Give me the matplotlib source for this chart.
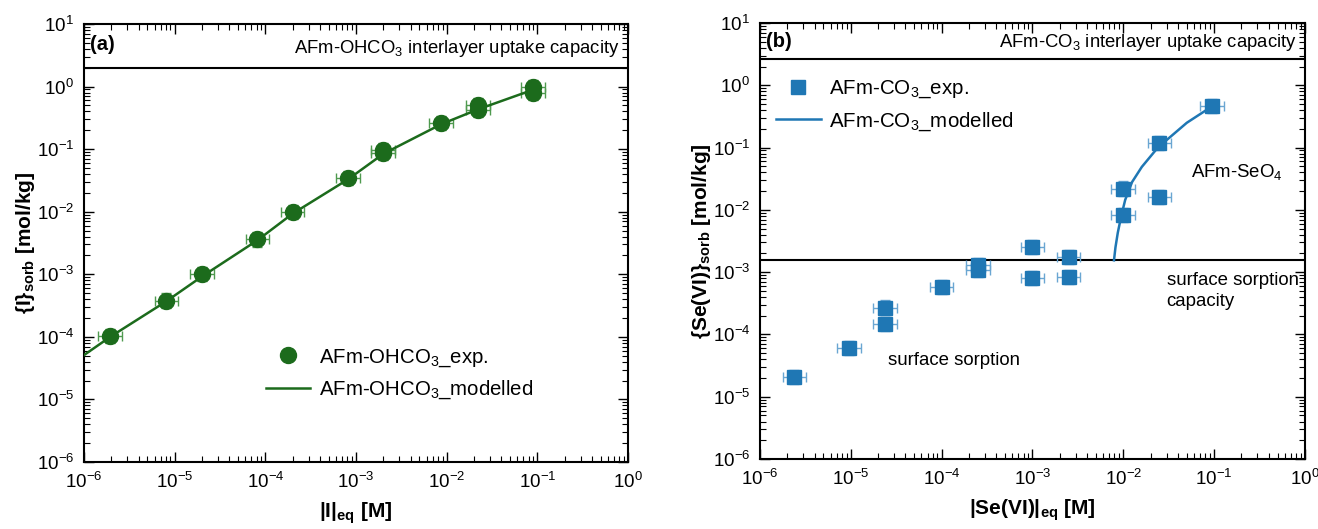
import numpy as np
import matplotlib
matplotlib.use("Agg")
import matplotlib.pyplot as plt

plt.rcParams['font.family'] = ['Liberation Sans', 'DejaVu Sans']
plt.rcParams['mathtext.fontset'] = 'custom'
plt.rcParams['mathtext.rm'] = 'Liberation Sans'
plt.rcParams['mathtext.it'] = 'Liberation Sans:italic'
plt.rcParams['mathtext.bf'] = 'Liberation Sans:bold'

# (a) iodide uptake on AFm-OHCO3
i_eq = [1.95e-6, 8.1e-6, 2.0e-5, 8.2e-5, 2.0e-4, 8.2e-4, 2.0e-3, 2.0e-3, 8.7e-3, 2.2e-2, 2.2e-2, 9.0e-2, 9.0e-2]
i_sorb = [1.04e-4, 3.8e-4, 1.0e-3, 3.6e-3, 9.8e-3, 3.5e-2, 9.6e-2, 8.6e-2, 2.6e-1, 5.0e-1, 4.2e-1, 9.7e-1, 7.9e-1]
i_mod_x = [1e-6, 1.95e-6, 8.1e-6, 2.0e-5, 8.2e-5, 2.0e-4, 8.2e-4, 2.0e-3, 8.7e-3, 2.2e-2, 9.0e-2]
i_mod_y = [5.1e-5, 1.0e-4, 3.7e-4, 9.2e-4, 3.5e-3, 9.3e-3, 3.3e-2, 8.4e-2, 2.5e-1, 4.3e-1, 8.9e-1]
i_cap = 1.95

# (b) selenate uptake on AFm-CO3
se_eq = [2.4e-6, 9.5e-6, 2.4e-5, 2.4e-5, 1.0e-4, 2.5e-4, 2.5e-4, 1.0e-3, 1.0e-3,
         2.5e-3, 2.5e-3, 1.0e-2, 1.0e-2, 2.5e-2, 2.5e-2, 9.5e-2]
se_sorb = [2.1e-5, 6.0e-5, 2.7e-4, 1.45e-4, 5.8e-4, 1.3e-3, 1.1e-3, 2.5e-3, 8.1e-4,
           1.75e-3, 8.4e-4, 2.2e-2, 8.3e-3, 1.2e-1, 1.6e-2, 4.7e-1]
se_mod_x = [7.9e-3, 8.2e-3, 8.7e-3, 9.5e-3, 1.05e-2, 1.25e-2, 1.6e-2, 2.4e-2, 5.0e-2, 9.5e-2]
se_mod_y = [1.55e-3, 2.5e-3, 4.3e-3, 8.0e-3, 1.45e-2, 2.8e-2, 4.9e-2, 1.0e-1, 2.5e-1, 4.6e-1]
se_cap = 2.64
se_surf_cap = 1.55e-3

# relative uncertainties
x_rel = 0.35
y_rel = 0.3

green = '#1c6b1c'
green_err = '#4f9a4f'
blue = '#1f77b4'
blue_err = '#6aa6d2'


def errs(v, rel):
    v = np.asarray(v)
    return [v - v / (1 + rel), v * rel]


def style_axes(ax):
    ax.set_xscale('log')
    ax.set_yscale('log')
    ax.set_xlim(1e-6, 1)
    ax.set_ylim(1e-6, 10)
    ax.tick_params(which='both', direction='in', top=True, right=True, labelsize=13.5, pad=7)
    ax.tick_params(which='major', length=7, width=1)
    ax.tick_params(which='minor', length=4, width=0.8)
    for s in ax.spines.values():
        s.set_linewidth(1.5)


fig = plt.figure(figsize=(13.18, 5.29), dpi=100)
ax1 = fig.add_axes([0.0637, 0.1267, 0.4128, 0.828])
ax2 = fig.add_axes([0.5766, 0.1323, 0.4135, 0.8242])

# panel (a)
style_axes(ax1)
ax1.axhline(i_cap, color='black', lw=1.5)
ax1.errorbar(i_eq, i_sorb, xerr=errs(i_eq, x_rel), yerr=errs(i_sorb, y_rel), fmt='none',
             ecolor=green_err, elinewidth=1, capsize=3.5, zorder=2)
pts1, = ax1.plot(i_eq, i_sorb, 'o', color=green, ms=11.5, zorder=3, label='AFm-OHCO$_3$_exp.')
ln1, = ax1.plot(i_mod_x, i_mod_y, '-', color=green, lw=1.8, zorder=4, label='AFm-OHCO$_3$_modelled')
ax1.text(0.012, 0.952, '(a)', transform=ax1.transAxes, fontsize=14.5, fontweight='bold', va='center')
ax1.text(0.985, 0.945, 'AFm-OHCO$_3$ interlayer uptake capacity', transform=ax1.transAxes,
         fontsize=13.3, ha='right', va='center')
ax1.legend(handles=[pts1, ln1], loc='center left', bbox_to_anchor=(0.3, 0.2), frameon=False,
           fontsize=14.7, handlelength=2.2, handletextpad=0.4, labelspacing=0.5)
ax1.set_xlabel(r'$\mathbf{|I|_{eq}}$ [M]', fontsize=15, fontweight='bold', labelpad=6)
ax1.set_ylabel(r'$\mathbf{\{I\}_{sorb}}$ [mol/kg]', fontsize=15, fontweight='bold', labelpad=0)

# panel (b)
style_axes(ax2)
ax2.axhline(se_cap, color='black', lw=1.5)
ax2.axhline(se_surf_cap, color='black', lw=1.5)
ax2.errorbar(se_eq, se_sorb, xerr=errs(se_eq, x_rel), yerr=errs(se_sorb, y_rel), fmt='none',
             ecolor=blue_err, elinewidth=1, capsize=3.5, zorder=2)
pts2, = ax2.plot(se_eq, se_sorb, 's', color=blue, ms=10.5, zorder=3, label='AFm-CO$_3$_exp.')
ln2, = ax2.plot(se_mod_x, se_mod_y, '-', color=blue, lw=1.8, zorder=4, label='AFm-CO$_3$_modelled')
ax2.text(0.012, 0.957, '(b)', transform=ax2.transAxes, fontsize=14.5, fontweight='bold', va='center')
ax2.text(0.985, 0.955, 'AFm-CO$_3$ interlayer uptake capacity', transform=ax2.transAxes,
         fontsize=13.3, ha='right', va='center')
ax2.text(0.055, 0.04, 'AFm-SeO$_4$', fontsize=13.4, va='center')
ax2.text(0.03, 1.0e-3, 'surface sorption\ncapacity', fontsize=13.4, va='top', linespacing=1.3)
ax2.text(2.6e-5, 3.8e-5, 'surface sorption', fontsize=13.4, va='center')
ax2.legend(handles=[pts2, ln2], loc='upper left', bbox_to_anchor=(-0.005, 0.915), frameon=False,
           fontsize=14.8, handlelength=2.2, handletextpad=0.4, labelspacing=0.5)
ax2.set_xlabel(r'$\mathbf{|Se(VI)|_{eq}}$ [M]', fontsize=15, fontweight='bold', labelpad=6)
ax2.set_ylabel(r'$\mathbf{\{Se(VI)\}_{sorb}}$ [mol/kg]', fontsize=15, fontweight='bold', labelpad=0)

fig.savefig('out.png', dpi=100)
